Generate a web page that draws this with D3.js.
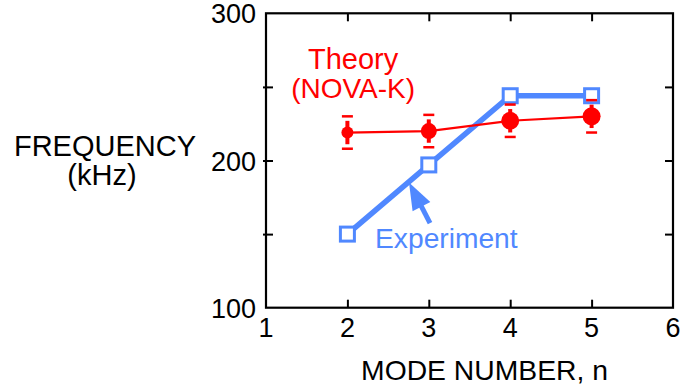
<!DOCTYPE html>
<html>
<head>
<meta charset="utf-8">
<script src="https://cdn.jsdelivr.net/npm/d3@7"></script>
<style>
  html, body { margin: 0; padding: 0; background: #fff; }
  svg { display: block; font-family: "Liberation Sans", Arial, sans-serif; }
</style>
</head>
<body>
<svg id="chart" width="680" height="387"></svg>
<script>
// ---- data ----
const modeNumbers = [2, 3, 4, 5];
const experimentFreq = [150, 197, 244, 244];
const theoryFreq = [219, 220, 227, 230];
const theoryErr = [11, 11, 11, 11];
const xTicks = [1, 2, 3, 4, 5, 6];
const yTicks = [100, 150, 200, 250, 300];
const yTickLabels = [100, 200, 300];

// ---- styles ----
const RED = "#ff0000";
const BLUE = "#5088ff";
const theoryMarkerR = [6, 8, 9, 9];

const svg = d3.select("#chart");
const x = d3.scaleLinear().domain([1, 6]).range([266, 673]);
const y = d3.scaleLinear().domain([100, 300]).range([307.7, 13.3]);

// frame
const g = svg.append("g");
g.append("rect")
  .attr("x", x(1)).attr("y", y(300))
  .attr("width", x(6) - x(1)).attr("height", y(100) - y(300))
  .attr("fill", "none").attr("stroke", "#000").attr("stroke-width", 2.2);

// axes ticks (inward) via d3 axes
function styleAxis(sel) {
  sel.select(".domain").remove();
  sel.selectAll(".tick line").attr("stroke", "#000").attr("stroke-width", 2);
  sel.selectAll(".tick text").remove();
}
g.append("g").attr("transform", `translate(0,${y(100)})`)
  .call(d3.axisBottom(x).tickValues(xTicks.slice(1, -1)).tickSize(-8)).call(styleAxis);
g.append("g").attr("transform", `translate(0,${y(300)})`)
  .call(d3.axisTop(x).tickValues(xTicks.slice(1, -1)).tickSize(-8)).call(styleAxis);
g.append("g").attr("transform", `translate(${x(1) + 7},0)`)
  .call(d3.axisLeft(y).tickValues(yTicks.slice(1, -1)).tickSize(10)).call(styleAxis);
g.append("g").attr("transform", `translate(${x(6)},0)`)
  .call(d3.axisRight(y).tickValues(yTicks.slice(1, -1)).tickSize(-8)).call(styleAxis);

// tick labels
g.selectAll(".xl").data(xTicks).enter().append("text")
  .attr("x", d => x(d)).attr("y", 337)
  .attr("text-anchor", "middle").attr("font-size", 27).text(d => d);
g.selectAll(".yl").data(yTickLabels).enter().append("text")
  .attr("x", x(1) - 10).attr("y", d => y(d) + 10)
  .attr("text-anchor", "end").attr("font-size", 27).text(d => d);

// axis titles
svg.append("text").attr("x", 105).attr("y", 156).attr("text-anchor", "middle")
  .attr("font-size", 29).text("FREQUENCY");
svg.append("text").attr("x", 102).attr("y", 185).attr("text-anchor", "middle")
  .attr("font-size", 29).text("(kHz)");
svg.append("text").attr("x", 484.5).attr("y", 380).attr("text-anchor", "middle")
  .attr("font-size", 28.3).text("MODE NUMBER, n");

// experiment series
const expData = modeNumbers.map((n, i) => ({ n, v: experimentFreq[i] }));
const line = d3.line().x(d => x(d.n)).y(d => y(d.v));
g.append("path").datum(expData).attr("d", line)
  .attr("fill", "none").attr("stroke", BLUE).attr("stroke-width", 5.5);
const sq = 14;
g.selectAll(".sq").data(expData).enter().append("rect")
  .attr("x", d => x(d.n) - sq / 2).attr("y", d => y(d.v) - sq / 2)
  .attr("width", sq).attr("height", sq)
  .attr("fill", "#fff").attr("stroke", BLUE).attr("stroke-width", 3);

// experiment arrow + label
const arrowFrom = [3.015, 157.5], arrowTo = [2.757, 185];
{
  const x0 = x(arrowFrom[0]), y0 = y(arrowFrom[1]);
  const x1 = x(arrowTo[0]), y1 = y(arrowTo[1]);
  const ang = Math.atan2(y1 - y0, x1 - x0);
  const hl = 27, hw = 10;
  const bx = x1 - hl * Math.cos(ang), by = y1 - hl * Math.sin(ang);
  g.append("line").attr("x1", x0).attr("y1", y0).attr("x2", bx + 6 * Math.cos(ang)).attr("y2", by + 6 * Math.sin(ang))
    .attr("stroke", BLUE).attr("stroke-width", 5);
  const px = -Math.sin(ang), py = Math.cos(ang);
  g.append("path")
    .attr("d", `M${x1},${y1}L${bx + hw * px},${by + hw * py}L${bx - hw * px},${by - hw * py}Z`)
    .attr("fill", BLUE);
}
g.append("text").attr("x", x(2.34)).attr("y", y(140.6))
  .attr("font-size", 28.2).attr("fill", BLUE).text("Experiment");

// theory series
const thData = modeNumbers.map((n, i) => ({ n, v: theoryFreq[i], e: theoryErr[i], r: theoryMarkerR[i] }));
g.append("path").datum(thData).attr("d", line)
  .attr("fill", "none").attr("stroke", RED).attr("stroke-width", 2.2);
const eb = g.selectAll(".eb").data(thData).enter().append("g");
eb.append("line")
  .attr("x1", d => x(d.n)).attr("x2", d => x(d.n))
  .attr("y1", d => y(d.v + d.e) + 4.5).attr("y2", d => y(d.v - d.e) - 4.5)
  .attr("stroke", RED).attr("stroke-width", 4);
eb.append("line")
  .attr("x1", d => x(d.n) - 5.5).attr("x2", d => x(d.n) + 5.5)
  .attr("y1", d => y(d.v + d.e)).attr("y2", d => y(d.v + d.e))
  .attr("stroke", RED).attr("stroke-width", 2.5);
eb.append("line")
  .attr("x1", d => x(d.n) - 5.5).attr("x2", d => x(d.n) + 5.5)
  .attr("y1", d => y(d.v - d.e)).attr("y2", d => y(d.v - d.e))
  .attr("stroke", RED).attr("stroke-width", 2.5);
eb.append("circle")
  .attr("cx", d => x(d.n)).attr("cy", d => y(d.v)).attr("r", d => d.r)
  .attr("fill", RED);

svg.append("text").attr("x", x(2.07)).attr("y", y(262)).attr("text-anchor", "middle")
  .attr("font-size", 29).attr("fill", RED).text("Theory");
svg.append("text").attr("x", x(2.07)).attr("y", y(242.5)).attr("text-anchor", "middle")
  .attr("font-size", 28).attr("fill", RED).text("(NOVA-K)");
</script>
</body>
</html>
